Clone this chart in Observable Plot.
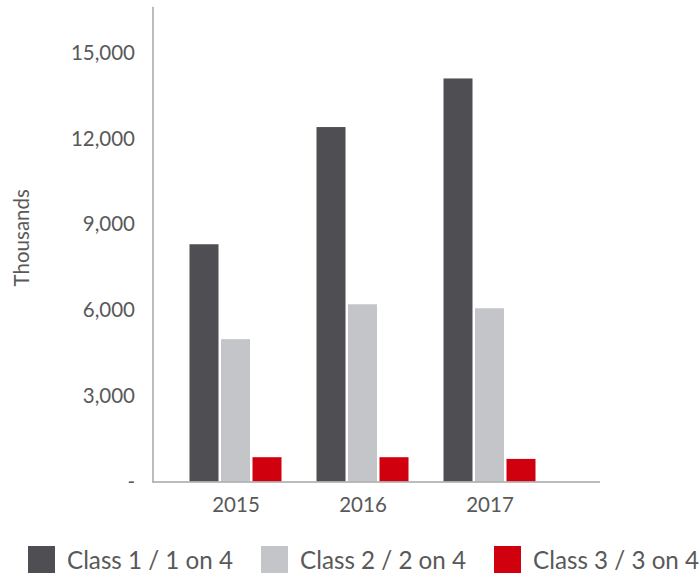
<!DOCTYPE html>
<html>
<head>
<meta charset="utf-8">
<script src="https://cdn.jsdelivr.net/npm/d3@7"></script>
<script src="https://cdn.jsdelivr.net/npm/@observablehq/plot@0.6"></script>
<style>
  body { margin: 0; background: #fff; font-family: Lato, sans-serif; overflow: hidden; }
  #legend { display: flex; align-items: center; margin-top: 16px; height: 27px; font-size: 24.2px; color: #595959; white-space: nowrap; }
  .item { display: flex; align-items: center; flex-shrink: 0; }
  .sw { width: 27px; height: 27px; margin-right: 12px; }
</style>
</head>
<body>
<div id="chart"></div>
<div id="legend"></div>
<script>
const years = ["2015", "2016", "2017"];
const classes = ["Class 1 / 1 on 4", "Class 2 / 2 on 4", "Class 3 / 3 on 4"];
const class1 = [8300, 12400, 14100];
const class2 = [4980, 6200, 6060];
const class3 = [850, 850, 790];
const yTicks = [0, 3000, 6000, 9000, 12000, 15000];
const yTitle = ["Thousands"];
const colors = ["#4f4e53", "#c4c5c8", "#d1000f"];
const offsets = [-31.5, 0, 31.5];

const series = [class1, class2, class3];
const data = series.flatMap((vals, i) => vals.map((v, j) => ({year: years[j], cls: classes[i], value: v, idx: i})));

const fmt = d3.format(",");
const chart = Plot.plot({
  width: 700,
  height: 530,
  marginTop: 7,
  marginBottom: 48.5,
  marginLeft: 152.5,
  marginRight: 100,
  style: {fontFamily: "Lato, sans-serif", fontSize: "20.5px", color: "#595959", background: "#fff"},
  x: {type: "band", domain: years, range: [171.5, 552.5], padding: 0, tickSize: 0, tickPadding: 15, label: null},
  y: {domain: [0, 16600], ticks: yTicks, tickFormat: d => d === 0 ? "-" : fmt(d), tickSize: 0, tickPadding: 18, label: null},
  marks: [
    ...classes.map((c, i) => Plot.barY(data.filter(d => d.idx === i), {
      x: "year", y: "value", fill: colors[i], insetLeft: 49, insetRight: 49, dx: offsets[i]
    })),
    Plot.ruleY([0], {stroke: "#a6a6a6", strokeWidth: 1.5}),
    Plot.frame({anchor: "left", stroke: "#a6a6a6", strokeWidth: 1.5}),
    Plot.text(yTitle, {text: d => d, frameAnchor: "left", textAnchor: "middle", rotate: -90, dx: -131, dy: -7, fontSize: 20.5, fill: "#595959"})
  ]
});
document.getElementById("chart").appendChild(chart);

const legend = document.getElementById("legend");
classes.forEach((c, i) => {
  const it = document.createElement("div");
  it.className = "item";
  it.style.marginLeft = "28px";
  it.innerHTML = `<div class="sw" style="background:${colors[i]}"></div><span>${c}</span>`;
  legend.appendChild(it);
});
</script>
</body>
</html>
